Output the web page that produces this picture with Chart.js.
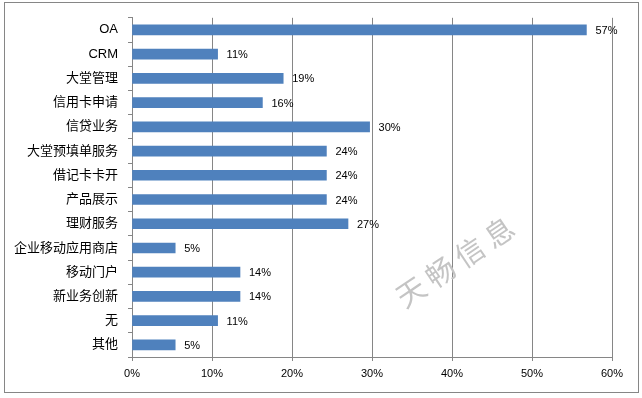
<!DOCTYPE html>
<html>
<head>
<meta charset="utf-8">
<script src="https://cdn.jsdelivr.net/npm/chart.js@4"></script>
<style>
  body { margin: 0; background: #fff; }
  canvas { display: block; }
</style>
</head>
<body>
<canvas id="usageChart" width="642" height="398"></canvas>
<script>
// categories top to bottom
const categories = ['OA', 'CRM', '大堂管理', '信用卡申请', '信贷业务', '大堂预填单服务', '借记卡卡开',
    '产品展示', '理财服务', '企业移动应用商店', '移动门户', '新业务创新', '无', '其他'];
// percentages
const shares = [56.8, 10.7, 18.9, 16.3, 29.7, 24.3, 24.3, 24.3, 27.0, 5.4, 13.5, 13.5, 10.7, 5.4];
// labels printed next to the bars
const shareLabels = ['57%', '11%', '19%', '16%', '30%', '24%', '24%', '24%', '27%', '5%', '14%', '14%', '11%', '5%'];
const xTicks = [0, 10, 20, 30, 40, 50, 60];

const FONT = '"Liberation Sans", "Noto Sans CJK SC", sans-serif';
const GRID = '#868686';

// white background + frame around the whole chart
const framePlugin = {
    id: 'frame',
    beforeDraw(chart) {
        const ctx = chart.ctx;
        ctx.save();
        ctx.fillStyle = '#fff';
        ctx.fillRect(0, 0, chart.width, chart.height);
        ctx.strokeStyle = GRID;
        ctx.lineWidth = 1;
        ctx.strokeRect(4.5, 2.5, 634, 390);
        ctx.restore();
    }
};

// value labels to the right of each bar
const barLabelPlugin = {
    id: 'barLabels',
    afterDatasetsDraw(chart) {
        const ctx = chart.ctx;
        const meta = chart.getDatasetMeta(0);
        ctx.save();
        ctx.font = '11px ' + FONT;
        ctx.fillStyle = '#000';
        ctx.textAlign = 'left';
        ctx.textBaseline = 'middle';
        meta.data.forEach((bar, i) => {
            ctx.fillText(shareLabels[i], bar.x + 9, bar.y + 1);
        });
        ctx.restore();
    }
};

// watermark
const watermarkPlugin = {
    id: 'watermark',
    afterDraw(chart) {
        const ctx = chart.ctx;
        ctx.save();
        ctx.translate(455, 262);
        ctx.rotate(-34 * Math.PI / 180);
        ctx.font = '29px "Noto Sans CJK SC"';
        ctx.fillStyle = '#c4c4c4';
        ctx.textAlign = 'center';
        ctx.textBaseline = 'middle';
        ctx.fillText('天 畅 信 息', 0, 0);
        ctx.restore();
    }
};

const usageChart = document.getElementById('usageChart').getContext('2d');
new Chart(usageChart, {
    type: 'bar',
    data: {
        labels: categories,
        datasets: [{
            data: shares,
            backgroundColor: '#4f81bd',
            barThickness: 10
        }]
    },
    options: {
        indexAxis: 'y',
        responsive: false,
        animation: false,
        layout: { padding: { top: 16, right: 30, left: 0, bottom: 0 } },
        plugins: {
            legend: { display: false },
            tooltip: { enabled: false }
        },
        scales: {
            x: {
                min: 0,
                max: 60,
                afterBuildTicks: s => { s.ticks = xTicks.map(v => ({ value: v })); },
                afterFit: s => { s.height = 41; },
                ticks: {
                    callback: v => v + '%',
                    color: '#000',
                    font: { size: 11, family: FONT },
                    padding: 6,
                    maxRotation: 0
                },
                grid: { color: GRID, tickLength: 4, tickColor: GRID },
                border: { color: GRID }
            },
            y: {
                afterFit: s => { s.width = 132; },
                ticks: {
                    color: '#000',
                    font: { size: 13, family: FONT },
                    padding: 10
                },
                grid: { drawOnChartArea: false, offset: true, tickLength: 4, tickColor: GRID },
                border: { color: GRID }
            }
        }
    },
    plugins: [framePlugin, barLabelPlugin, watermarkPlugin]
});
</script>
</body>
</html>
